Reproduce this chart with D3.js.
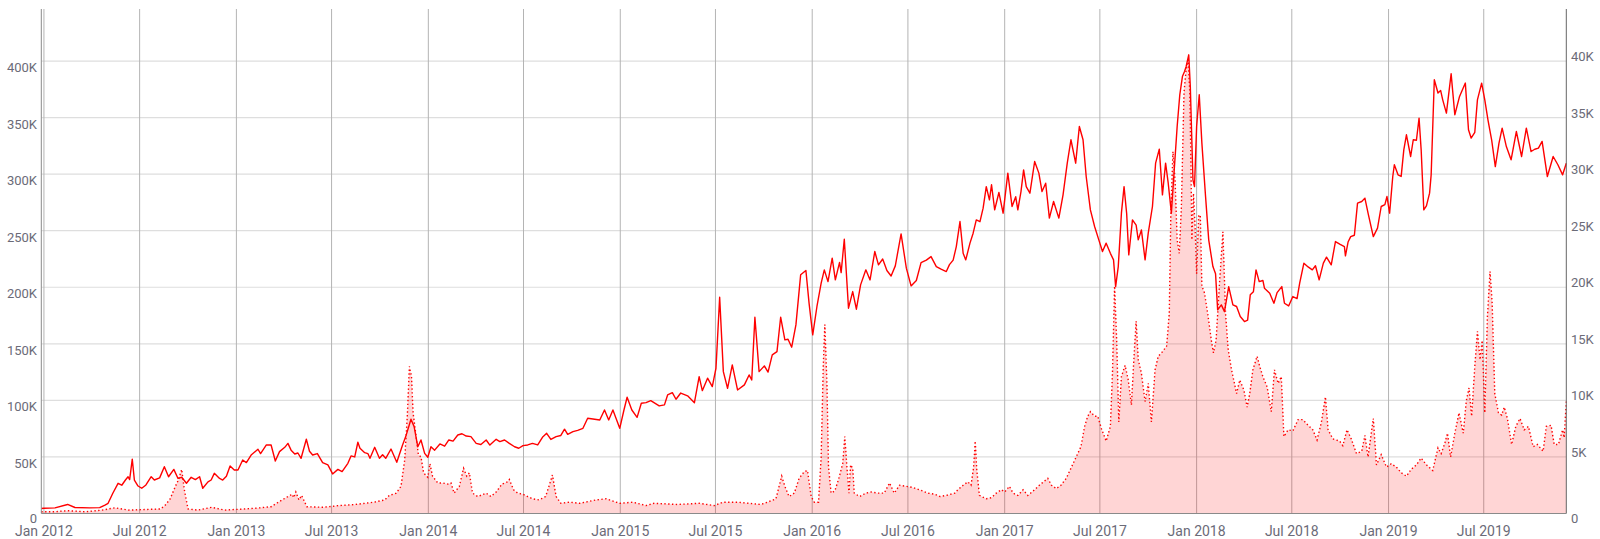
<!DOCTYPE html>
<html>
<head>
<meta charset="utf-8">
<script src="https://cdn.jsdelivr.net/npm/d3@7"></script>
<style>
  html, body { margin: 0; padding: 0; background: #fff; }
  svg { display: block; font-family: Roboto, "Noto Sans", sans-serif; }
</style>
</head>
<body>
<svg id="chart" width="1600" height="539"></svg>
<script>
// ---------- DATA ----------
// Solid line (left axis, thousands)
const lineDates = [
"2011-12-27","2012-01-01","2012-01-22","2012-02-15","2012-02-29","2012-03-28","2012-04-16","2012-04-26","2012-05-02","2012-05-11",
"2012-05-21","2012-05-28","2012-06-04","2012-06-09","2012-06-12","2012-06-17","2012-06-21","2012-06-28","2012-07-05","2012-07-13",
"2012-07-23","2012-07-29","2012-08-08","2012-08-17","2012-08-25","2012-09-04","2012-09-12","2012-09-19","2012-09-28","2012-10-07",
"2012-10-15","2012-10-23","2012-10-29","2012-11-08","2012-11-14","2012-11-20","2012-11-30","2012-12-06","2012-12-13","2012-12-20",
"2012-12-28","2013-01-04","2013-01-13","2013-01-20","2013-01-29","2013-02-11","2013-02-16","2013-02-27","2013-03-08","2013-03-16",
"2013-03-24","2013-04-03","2013-04-09","2013-04-15","2013-04-22","2013-04-28","2013-05-04","2013-05-14","2013-05-20","2013-05-26",
"2013-06-04","2013-06-14","2013-06-24","2013-07-03","2013-07-13","2013-07-21","2013-08-01","2013-08-07","2013-08-14","2013-08-20",
"2013-08-24","2013-09-02","2013-09-08","2013-09-12","2013-09-21","2013-09-30","2013-10-06","2013-10-12","2013-10-22","2013-11-02",
"2013-11-13","2013-11-19","2013-11-29","2013-12-05","2013-12-12","2013-12-18","2013-12-25","2013-12-31","2014-01-06","2014-01-13",
"2014-01-23","2014-02-01","2014-02-09","2014-02-17","2014-02-26","2014-03-06","2014-03-14","2014-03-23","2014-04-02","2014-04-11",
"2014-04-21","2014-04-28","2014-05-10","2014-05-17","2014-05-26","2014-06-04","2014-06-14","2014-06-22","2014-06-30","2014-07-09",
"2014-07-18","2014-07-28","2014-08-06","2014-08-14","2014-08-22","2014-09-01","2014-09-10","2014-09-17","2014-09-23","2014-10-03",
"2014-10-12","2014-10-22","2014-10-31","2014-11-10","2014-11-23","2014-12-02","2014-12-10","2014-12-18","2014-12-31","2015-01-08",
"2015-01-14","2015-01-23","2015-02-02","2015-02-10","2015-02-19","2015-02-28","2015-03-16","2015-03-26","2015-04-01","2015-04-10",
"2015-04-17","2015-04-26","2015-05-09","2015-05-22","2015-05-31","2015-06-06","2015-06-16","2015-06-25","2015-07-02","2015-07-09",
"2015-07-16","2015-07-24","2015-08-02","2015-08-12","2015-08-25","2015-09-03","2015-09-08","2015-09-14","2015-09-22","2015-10-02",
"2015-10-09","2015-10-17","2015-10-26","2015-11-02","2015-11-10","2015-11-16","2015-11-23","2015-12-01","2015-12-10","2015-12-20",
"2015-12-26","2016-01-02","2016-01-10","2016-01-18","2016-01-24","2016-01-31","2016-02-08","2016-02-14","2016-02-22","2016-02-25",
"2016-03-02","2016-03-10","2016-03-18","2016-03-25","2016-04-02","2016-04-12","2016-04-20","2016-04-29","2016-05-06","2016-05-14",
"2016-05-22","2016-05-30","2016-06-07","2016-06-18","2016-06-28","2016-07-07","2016-07-17","2016-07-26","2016-08-05","2016-08-14",
"2016-08-24","2016-09-02","2016-09-12","2016-09-18","2016-09-25","2016-10-01","2016-10-08","2016-10-14","2016-10-19","2016-10-27",
"2016-11-02","2016-11-08","2016-11-15","2016-11-21","2016-11-27","2016-12-03","2016-12-07","2016-12-13","2016-12-21","2016-12-29",
"2017-01-07","2017-01-15","2017-01-22","2017-01-26","2017-02-01","2017-02-06","2017-02-11","2017-02-18","2017-02-27","2017-03-07",
"2017-03-13","2017-03-20","2017-03-27","2017-04-04","2017-04-14","2017-04-22","2017-04-30","2017-05-07","2017-05-16","2017-05-23",
"2017-05-30","2017-06-05","2017-06-13","2017-06-21","2017-06-29","2017-07-06","2017-07-13","2017-07-21","2017-07-27","2017-07-31",
"2017-08-05","2017-08-11","2017-08-16","2017-08-21","2017-08-25","2017-09-01","2017-09-08","2017-09-12","2017-09-18","2017-09-25",
"2017-10-01","2017-10-09","2017-10-15","2017-10-22","2017-10-28","2017-11-03","2017-11-08","2017-11-14","2017-11-19","2017-11-25",
"2017-11-30","2017-12-05","2017-12-09","2017-12-12","2017-12-17","2017-12-20","2017-12-25","2017-12-28","2018-01-01","2018-01-06",
"2018-01-11","2018-01-18","2018-01-24","2018-02-01","2018-02-06","2018-02-10","2018-02-17","2018-02-23","2018-03-03","2018-03-11",
"2018-03-18","2018-03-25","2018-04-02","2018-04-08","2018-04-13","2018-04-19","2018-04-24","2018-04-30","2018-05-07","2018-05-10",
"2018-05-20","2018-05-28","2018-06-03","2018-06-12","2018-06-17","2018-06-25","2018-07-03","2018-07-11","2018-07-16","2018-07-24",
"2018-08-01","2018-08-09","2018-08-15","2018-08-22","2018-08-30","2018-09-05","2018-09-14","2018-09-22","2018-10-01","2018-10-09",
"2018-10-11","2018-10-16","2018-10-21","2018-10-28","2018-11-03","2018-11-11","2018-11-17","2018-11-23","2018-12-03","2018-12-11",
"2018-12-18","2018-12-25","2018-12-29","2019-01-03","2019-01-09","2019-01-12","2019-01-19","2019-01-25","2019-01-30","2019-02-04",
"2019-02-12","2019-02-17","2019-02-23","2019-02-28","2019-03-04","2019-03-09","2019-03-14","2019-03-20","2019-03-23","2019-03-29",
"2019-04-05","2019-04-10","2019-04-14","2019-04-21","2019-04-30","2019-05-07","2019-05-16","2019-05-27","2019-06-02","2019-06-07",
"2019-06-14","2019-06-19","2019-06-27","2019-07-03","2019-07-09","2019-07-16","2019-07-23","2019-07-30","2019-08-05","2019-08-13",
"2019-08-22","2019-09-01","2019-09-11","2019-09-20","2019-09-29","2019-10-06","2019-10-13","2019-10-20","2019-10-30","2019-11-10",
"2019-11-19","2019-11-28","2019-12-05"
];
const lineValues = [
4.4,4.6,5.0,8.0,5.3,5.0,5.2,7.5,9.0,17.9,
26.7,25,29.6,32.5,30,48,29.6,24.3,22.3,25.2,
32.5,29.6,31.5,41.4,32.5,39,31,32,26.7,32,
30,32.5,22.3,28,29.6,35.5,31,29.6,33,42,
38.5,38.5,47.3,45,51.7,56.8,53,60.6,60.6,46.4,
54.7,58.5,62,56,52.6,53.5,48.8,65.6,55,51.7,
53,45,43,35,39,37,44.4,50.9,50,63,
57.7,53.8,53,48.8,58.5,48.8,52,48.8,57,45.3,
60.6,68,83.3,76.8,59,65,53.2,49.7,59,56,
61.5,59.5,65,64,69.4,70.5,68.5,68,62,61,
65,60.5,65.6,63.5,65,62,59,57.7,60,60.6,
62,60.6,67.4,70.9,65.5,68,69,74.5,70,72.4,
73.5,75.3,84.2,83.5,82.7,91.5,82.7,91.5,75.3,91.5,
102.8,91.5,85,97.5,98,99.8,95.1,96,104.8,106.8,
101,106.5,104,98,121,108.6,119.6,112.2,128.4,191.2,
125.4,110.7,131.3,109.2,113.7,122.5,118,173.5,125.4,130.5,
125,140.2,143.1,173.5,153.5,154,147,166.7,211,214.8,
186,157.9,183,203.6,215.4,205,225.7,206.5,222,213,
242.5,181.5,196.2,180.6,202.1,215.4,206.5,231.6,219.8,225,
214.8,210,218.9,247.2,216.9,201.2,206,221.8,224,227.1,
218.3,216,213.9,220,224,236,258.1,230.1,224.2,239,
247.8,259.6,258,269.9,289,277.3,290.6,268.4,283.8,265.5,
300.9,271.4,280,268.4,284.6,303.8,289,283.2,311.2,300.9,
284.6,292,261.1,275.8,261.1,281.7,309.7,330.4,309.7,342.1,
330.4,297.9,268.4,253.7,241.9,231.6,239,230,224.2,200.6,
218.3,265.5,289,265,228.6,259.6,255,241.9,250.7,224.2,
247.8,271.4,309.7,322.1,281.7,309.7,292,265.5,300.9,342.1,
370.2,386.3,390.8,395,405.5,377.5,295,289,342.1,370.2,
327.4,280.2,241.9,218.3,212,180,184.4,178.5,200.6,184.4,
183,174.1,169.7,171,193.3,196,215.4,205,206,199.2,
194.8,185.9,195.3,200.6,185.9,183.5,191.8,190,203.6,221.3,
218,215.4,219,206.5,221.3,226.6,219.8,240.4,238,236,
227.8,240,244.8,246,274.4,275.8,278.8,265.5,244.8,252.3,
271.4,273,280.2,265.5,297.9,308.3,299.4,298,321.5,334.8,
315.6,330.4,330,349.5,321.5,268.4,272,283.2,299.4,383.4,
371.7,374,365.7,354,388.7,352.5,368.7,380.5,339.2,331.9,
337,365.7,380.5,365.7,348,330.4,306.7,327.4,340.7,324.4,
312.7,337.7,315.6,340.7,320,322,323,328.9,297.9,315.6,
308.3,299.4,309.7
];

// Dotted area (right axis, thousands)
const areaDates = [
"2011-12-27","2012-01-20","2012-02-15","2012-03-20","2012-04-20","2012-05-15","2012-06-10","2012-07-10","2012-08-10","2012-08-20",
"2012-08-28","2012-09-07","2012-09-13","2012-09-19","2012-09-24","2012-10-01","2012-10-20","2012-11-15","2012-12-10","2013-01-15",
"2013-02-15","2013-03-08","2013-03-20","2013-04-09","2013-04-17","2013-04-20","2013-04-24","2013-04-30","2013-05-05","2013-05-15",
"2013-06-15","2013-07-15","2013-08-15","2013-09-20","2013-10-10","2013-10-19","2013-11-01","2013-11-10","2013-11-17","2013-11-22",
"2013-11-26","2013-11-30","2013-12-03","2013-12-08","2013-12-13","2013-12-18","2013-12-23","2013-12-31","2014-01-04","2014-01-09",
"2014-01-19","2014-01-28","2014-02-07","2014-02-13","2014-02-19","2014-03-01","2014-03-09","2014-03-15","2014-03-20","2014-03-26",
"2014-04-05","2014-04-21","2014-04-30","2014-05-10","2014-05-21","2014-06-01","2014-06-04","2014-06-12","2014-06-20","2014-06-30",
"2014-07-09","2014-07-18","2014-07-31","2014-08-12","2014-08-19","2014-08-25","2014-09-01","2014-09-10","2014-09-26","2014-10-16",
"2014-11-16","2014-12-05","2014-12-31","2015-01-25","2015-02-19","2015-03-06","2015-04-20","2015-05-31","2015-06-29","2015-07-15",
"2015-08-12","2015-09-25","2015-10-08","2015-10-24","2015-10-30","2015-11-04","2015-11-10","2015-11-18","2015-11-28","2015-12-07",
"2015-12-17","2015-12-23","2015-12-30","2016-01-05","2016-01-13","2016-01-18","2016-01-22","2016-01-25","2016-01-29","2016-02-01",
"2016-02-06","2016-02-13","2016-02-20","2016-02-28","2016-03-03","2016-03-07","2016-03-11","2016-03-14","2016-03-18","2016-03-21",
"2016-03-31","2016-04-12","2016-04-22","2016-05-04","2016-05-17","2016-05-27","2016-06-05","2016-06-15","2016-06-28","2016-07-10",
"2016-07-23","2016-08-08","2016-08-21","2016-08-31","2016-09-12","2016-09-28","2016-10-04","2016-10-14","2016-10-23","2016-10-29",
"2016-11-03","2016-11-06","2016-11-09","2016-11-14","2016-11-27","2016-12-07","2016-12-16","2016-12-26","2017-01-01","2017-01-10",
"2017-01-17","2017-01-26","2017-02-05","2017-02-14","2017-02-27","2017-03-08","2017-03-16","2017-03-24","2017-03-31","2017-04-09",
"2017-04-18","2017-04-28","2017-05-07","2017-05-17","2017-05-26","2017-06-02","2017-06-08","2017-06-13","2017-06-21","2017-06-27",
"2017-07-04","2017-07-13","2017-07-21","2017-07-25","2017-07-29","2017-08-02","2017-08-06","2017-08-11","2017-08-18","2017-08-24",
"2017-08-30","2017-09-04","2017-09-08","2017-09-12","2017-09-18","2017-09-25","2017-10-01","2017-10-07","2017-10-14","2017-10-20",
"2017-10-28","2017-11-05","2017-11-10","2017-11-13","2017-11-17","2017-11-21","2017-11-25","2017-11-29","2017-12-03","2017-12-08",
"2017-12-12","2017-12-16","2017-12-19","2017-12-21","2017-12-23","2017-12-26","2017-12-29","2018-01-01","2018-01-05","2018-01-08",
"2018-01-11","2018-01-16","2018-01-22","2018-01-29","2018-02-02","2018-02-07","2018-02-14","2018-02-20","2018-02-25","2018-03-02",
"2018-03-08","2018-03-18","2018-03-24","2018-04-01","2018-04-07","2018-04-12","2018-04-18","2018-04-26","2018-05-01","2018-05-07",
"2018-05-15","2018-05-23","2018-05-29","2018-06-05","2018-06-11","2018-06-16","2018-06-24","2018-07-03","2018-07-13","2018-07-22",
"2018-08-01","2018-08-10","2018-08-18","2018-08-26","2018-09-03","2018-09-08","2018-09-17","2018-09-30","2018-10-06","2018-10-14",
"2018-10-22","2018-11-01","2018-11-11","2018-11-17","2018-11-23","2018-12-03","2018-12-09","2018-12-18","2018-12-28","2019-01-06",
"2019-01-16","2019-01-25","2019-02-04","2019-02-13","2019-02-23","2019-03-04","2019-03-14","2019-03-26","2019-04-05","2019-04-11",
"2019-04-18","2019-04-23","2019-04-29","2019-05-07","2019-05-15","2019-05-23","2019-05-29","2019-06-03","2019-06-08","2019-06-14",
"2019-06-19","2019-06-24","2019-06-28","2019-07-03","2019-07-08","2019-07-13","2019-07-17","2019-07-22","2019-07-29","2019-08-04",
"2019-08-09","2019-08-15","2019-08-23","2019-08-31","2019-09-08","2019-09-16","2019-09-24","2019-10-03","2019-10-11","2019-10-22",
"2019-10-28","2019-11-06","2019-11-12","2019-11-20","2019-11-28","2019-12-01","2019-12-05"
];
const areaValues = [
0.15,0.15,0.25,0.15,0.3,0.5,0.3,0.35,0.4,0.8,
1.3,2.4,3.0,3.9,2.1,0.4,0.3,0.55,0.3,0.4,
0.5,0.6,0.95,1.5,1.7,1.4,1.9,1.2,1.6,0.6,
0.55,0.7,0.8,1.0,1.2,1.6,1.8,2.4,4.7,8.6,
13.0,12.1,8.9,7.1,5.2,5.0,3.6,3.2,4.4,3.3,
2.7,2.7,2.6,2.7,1.8,2.4,4.0,3.3,3.6,1.8,
1.5,1.8,1.5,1.9,2.6,2.8,3.0,2.1,1.8,1.7,
1.5,1.3,1.2,1.5,2.5,3.4,1.5,0.9,1.0,0.9,
1.2,1.3,0.9,1.0,0.7,0.9,0.8,0.9,0.7,1.0,
1.0,0.8,1.0,1.3,2.4,3.3,2.4,1.5,1.8,3.1,
3.7,3.8,1.5,1.0,1.0,5.0,13.0,16.7,11.5,4.1,
1.8,2.0,3.0,4.4,6.8,4.1,1.8,4.3,4.0,1.8,
1.5,1.8,1.9,1.8,1.8,2.7,1.8,2.5,2.4,2.3,
2.1,1.8,1.7,1.5,1.6,1.8,2.1,2.5,2.8,2.5,
4.1,6.4,3.8,1.6,1.3,1.4,1.8,2.1,1.9,2.4,
1.8,1.6,2.1,1.6,2.1,2.5,2.8,3.1,2.5,2.2,
2.5,3.1,4.0,5.0,5.9,7.7,8.6,9.0,8.6,8.6,
7.5,6.4,7.7,12.4,20.1,15.3,8.1,12.1,13.1,11.8,
9.6,13.9,17.0,13.6,12.4,9.9,11.5,8.1,12.7,13.9,
14.3,14.8,17.7,26.6,32.0,29.5,24.2,23.0,27.1,37.2,
39.2,40.1,37.2,31.6,24.2,28.3,25.4,21.2,26.3,26.4,
20.1,19.5,17.7,15.3,14.2,15.3,20.7,24.9,17.7,14.5,
12.8,10.6,11.8,10.9,9.4,10.6,12.7,13.9,13.0,12.1,
11.2,9.0,12.7,11.5,12.1,6.8,7.4,7.3,8.3,8.3,
7.8,7.4,6.5,8.0,10.3,7.4,6.6,6.4,6.0,7.4,
6.6,5.3,5.5,6.9,5.0,8.4,4.3,5.2,4.1,4.4,
4.1,3.6,3.3,3.9,4.3,4.9,4.3,3.8,5.8,5.3,
6.2,7.1,5.0,7.1,8.9,7.1,10.0,11.1,8.6,13.0,
16.1,13.6,15.3,8.9,17.4,21.4,18.6,10.6,8.9,8.7,
9.4,8.4,6.1,7.7,8.4,7.4,7.7,5.9,6.1,5.5,
7.7,7.8,6.1,6.1,7.4,6.7,9.9
];

// Axes ticks / labels
const leftTicks  = [0, 50, 100, 150, 200, 250, 300, 350, 400];
const leftLabels = ["0","50K","100K","150K","200K","250K","300K","350K","400K"];
const rightTicks  = [0, 5, 10, 15, 20, 25, 30, 35, 40];
const rightLabels = ["0","5K","10K","15K","20K","25K","30K","35K","40K"];
const xTickDates  = ["2012-01-01","2012-07-01","2013-01-01","2013-07-01","2014-01-01","2014-07-01","2015-01-01","2015-07-01",
                     "2016-01-01","2016-07-01","2017-01-01","2017-07-01","2018-01-01","2018-07-01","2019-01-01","2019-07-01"];
const xTickLabels = ["Jan 2012","Jul 2012","Jan 2013","Jul 2013","Jan 2014","Jul 2014","Jan 2015","Jul 2015",
                     "Jan 2016","Jul 2016","Jan 2017","Jul 2017","Jan 2018","Jul 2018","Jan 2019","Jul 2019"];
const xDomain = ["2011-12-27","2019-12-05"];
const leftMax = 446, rightMax = 44.6;

// ---------- CHART ----------
const parse = d3.utcParse("%Y-%m-%d");
const svg = d3.select("#chart");
const L = 41.3, R = 1566.3, T = 9, B = 513.5;

const x = d3.scaleUtc().domain(xDomain.map(parse)).range([L, R]);
const yL = d3.scaleLinear().domain([0, leftMax]).range([B, T]);
const yR = d3.scaleLinear().domain([0, rightMax]).range([B, T]);

const lineData = lineDates.map((d, i) => ({ date: parse(d), v: lineValues[i] }));
const areaData = areaDates.map((d, i) => ({ date: parse(d), v: areaValues[i] }));

// horizontal gridlines
svg.append("g").selectAll("line").data(leftTicks.filter(t => t > 0)).join("line")
  .attr("x1", L).attr("x2", R)
  .attr("y1", d => yL(d)).attr("y2", d => yL(d))
  .attr("stroke", "#dedede").attr("stroke-width", 1.2);

// vertical gridlines
svg.append("g").selectAll("line").data(xTickDates).join("line")
  .attr("x1", d => x(parse(d))).attr("x2", d => x(parse(d)))
  .attr("y1", T).attr("y2", B)
  .attr("stroke", "#b4b4b4").attr("stroke-width", 1);

// area
const area = d3.area().x(d => x(d.date)).y0(B).y1(d => yR(d.v));
svg.append("path").datum(areaData).attr("d", area)
  .attr("fill", "rgba(255,0,0,0.165)").attr("stroke", "none");

// dotted line
const lineR = d3.line().x(d => x(d.date)).y(d => yR(d.v));
svg.append("path").datum(areaData).attr("d", lineR)
  .attr("fill", "none").attr("stroke", "#ff0000")
  .attr("stroke-width", 1.4).attr("stroke-dasharray", "1.4,2.4");

// solid line
const lineL = d3.line().x(d => x(d.date)).y(d => yL(d.v));
svg.append("path").datum(lineData).attr("d", lineL)
  .attr("fill", "none").attr("stroke", "#ff0000")
  .attr("stroke-width", 1.4).attr("stroke-linejoin", "round");

// axis lines
svg.append("line").attr("x1", L).attr("x2", L).attr("y1", T).attr("y2", B)
  .attr("stroke", "#8a8a8a").attr("stroke-width", 1);
svg.append("line").attr("x1", R).attr("x2", R).attr("y1", T).attr("y2", B)
  .attr("stroke", "#666").attr("stroke-width", 1);
svg.append("line").attr("x1", L).attr("x2", R).attr("y1", B).attr("y2", B)
  .attr("stroke", "#8a8a8a").attr("stroke-width", 1);

// left labels
svg.append("g").selectAll("text").data(leftTicks).join("text")
  .attr("x", 37).attr("y", d => d === 0 ? yL(d) + 9 : yL(d) + 11)
  .attr("text-anchor", "end").attr("font-size", 13).attr("fill", "#6b6b78")
  .text((d, i) => leftLabels[i]);

// right labels
svg.append("g").selectAll("text").data(rightTicks).join("text")
  .attr("x", 1571).attr("y", d => d === 0 ? yR(d) + 9 : yR(d))
  .attr("text-anchor", "start").attr("font-size", 13).attr("fill", "#6b6b78")
  .text((d, i) => rightLabels[i]);

// x labels
svg.append("g").selectAll("text").data(xTickDates).join("text")
  .attr("x", d => x(parse(d))).attr("y", 535.5)
  .attr("text-anchor", "middle").attr("font-size", 14).attr("fill", "#6b6b78")
  .text((d, i) => xTickLabels[i]);
</script>
</body>
</html>
